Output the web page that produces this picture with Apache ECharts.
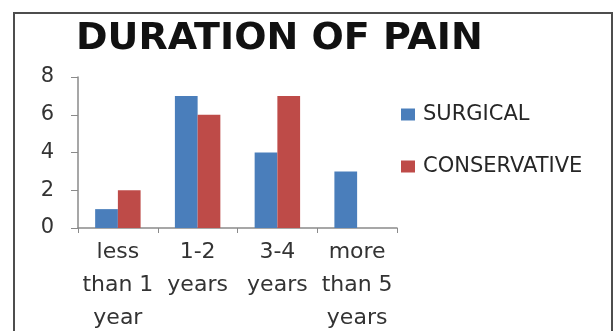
<!DOCTYPE html>
<html>
<head>
<meta charset="utf-8">
<script src="https://cdn.jsdelivr.net/npm/echarts@6/dist/echarts.min.js"></script>
<style>
html,body{margin:0;padding:0;background:#fff;}
#c{width:614px;height:331px;}
</style>
</head>
<body>
<div id="c"></div>
<script>
var titleText = 'DURATION OF PAIN';
var categories = ['less\nthan 1\nyear', '1-2\nyears', '3-4\nyears', 'more\nthan 5\nyears'];
var surgical = [1, 7, 4, 3];
var conservative = [2, 6, 7, 0];
var seriesNames = ['SURGICAL', 'CONSERVATIVE'];
var yTicks = [0, 2, 4, 6, 8];

var chart = echarts.init(document.getElementById('c'), null, {renderer: 'canvas'});
var font = 'DejaVu Sans';
chart.setOption({
  animation: false,
  backgroundColor: '#ffffff',
  title: {
    text: titleText,
    left: 76,
    top: 20,
    padding: 0,
    textStyle: {fontFamily: font, fontWeight: 'bold', fontSize: 38, color: '#111'}
  },
  legend: {
    orient: 'vertical',
    left: 401,
    top: 104,
    itemWidth: 14,
    itemHeight: 12,
    itemGap: 31,
    icon: 'rect',
    padding: 0,
    textStyle: {fontFamily: font, fontSize: 21, color: '#262626', padding: [0, 0, 0, 3]},
    data: seriesNames
  },
  grid: {left: 78, right: 217, top: 77, bottom: 103, containLabel: false, outerBoundsMode: 'none'},
  xAxis: {
    type: 'category',
    data: categories,
    axisLine: {lineStyle: {color: '#8a8a8a', width: 1.5}},
    axisTick: {show: true, length: 5, lineStyle: {color: '#8a8a8a'}},
    axisLabel: {fontFamily: font, fontSize: 22, color: '#333', lineHeight: 33, margin: 8, interval: 0}
  },
  yAxis: {
    type: 'value',
    min: yTicks[0],
    max: yTicks[yTicks.length - 1],
    interval: 2,
    splitLine: {show: false},
    axisLine: {show: true, lineStyle: {color: '#8a8a8a', width: 1.5}},
    axisTick: {show: true, length: 7, lineStyle: {color: '#8a8a8a'}},
    axisLabel: {fontFamily: font, fontSize: 21, color: '#333', margin: 24}
  },
  series: [
    {name: seriesNames[0], type: 'bar', data: surgical, barGap: '0%', barCategoryGap: '43%',
     itemStyle: {color: '#4a7ebb'}},
    {name: seriesNames[1], type: 'bar', data: conservative, barGap: '0%', barCategoryGap: '43%',
     itemStyle: {color: '#be4b48'}}
  ],
  graphic: [
    {type: 'rect', shape: {x: 14, y: 13, width: 598, height: 340},
     style: {fill: null, stroke: '#4d4d4d', lineWidth: 2}, silent: true}
  ]
});
</script>
</body>
</html>
